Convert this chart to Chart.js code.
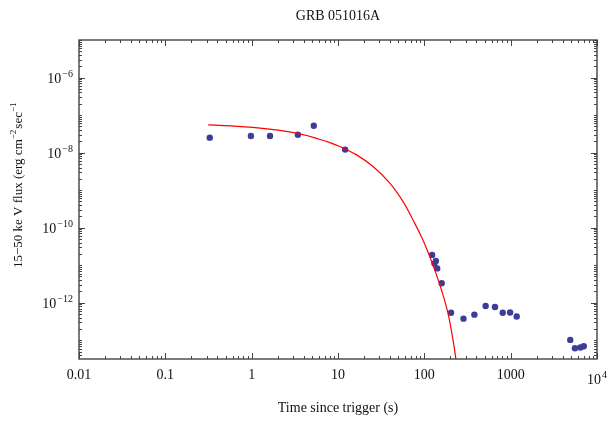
<!DOCTYPE html>
<html>
<head>
<meta charset="utf-8">
<script src="https://cdn.jsdelivr.net/npm/chart.js@4/dist/chart.umd.min.js"></script>
<style>
  html, body { margin: 0; background: #fff; }
</style>
</head>
<body>
<canvas id="chart" width="608" height="424"></canvas>
<script>
// ── Data ──────────────────────────────────────────────────────────────────────
const obsTime = [0.327, 0.98, 1.63, 3.43, 5.24, 12.1, 123, 131, 136, 141, 159, 204, 284, 380, 513, 658, 809, 985, 1175, 4900, 5550, 6410, 7030];
const obsFlux = [2.5e-8, 2.77e-8, 2.77e-8, 3.0e-8, 5.2e-8, 1.2e-8, 1.88e-11, 1.1e-11, 1.3e-11, 8.2e-12, 3.3e-12, 5.4e-13, 3.76e-13, 4.8e-13, 8.2e-13, 7.7e-13, 5.4e-13, 5.5e-13, 4.3e-13, 1.02e-13, 6.1e-14, 6.4e-14, 6.9e-14];

// fitted curve
const fitTime = [0.314, 0.953, 3.31, 8.04, 10.5, 16.4, 25.5, 39.8, 56.7, 73.9, 92.5, 110, 132, 158, 188, 215, 234];
const fitFlux = [5.48e-8, 4.75e-8, 3.29e-8, 1.85e-8, 1.45e-8, 8.69e-9, 4.24e-9, 1.53e-9, 4.94e-10, 1.60e-10, 5.75e-11, 2.29e-11, 7.45e-12, 2.18e-12, 5.21e-13, 1.01e-13, 2.8e-14];

// axes
const xTickValues = [0.01, 0.1, 1, 10, 100, 1000, 10000];
const xTickBase   = ['0.01', '0.1', '1', '10', '100', '1000', '10'];
const xTickExp    = ['', '', '', '', '', '', '4'];
const yTickValues = [1e-6, 1e-8, 1e-10, 1e-12];
const yTickExp    = ['\u22126', '\u22128', '\u221210', '\u221212'];

const xMin = 0.01, xMax = 10000;
const yMin = Math.pow(10, -13.5), yMax = 1e-5;

const FONT = '"Liberation Serif", "DejaVu Serif", serif';
const frameColor = '#444';

// ── Helpers ──────────────────────────────────────────────────────────────────
function powWidth(ctx, base, exp) {
  ctx.font = `14px ${FONT}`;
  let w = ctx.measureText(base).width;
  if (exp) { ctx.font = `10px ${FONT}`; w += ctx.measureText(exp).width + 1; }
  return w;
}

function drawPow(ctx, base, exp, x, y) {
  // x = left edge, y = baseline
  ctx.textAlign = 'left';
  ctx.textBaseline = 'alphabetic';
  ctx.font = `14px ${FONT}`;
  ctx.fillText(base, x, y);
  if (exp) {
    const bw = ctx.measureText(base).width;
    ctx.font = `10px ${FONT}`;
    ctx.fillText(exp, x + bw + 1, y - 6);
  }
}

function minorValues(min, max) {
  const out = [];
  for (let k = Math.floor(Math.log10(min)); k <= Math.ceil(Math.log10(max)); k++) {
    for (let m = 1; m <= 9; m++) {
      const v = m * Math.pow(10, k);
      if (v >= min && v <= max) out.push({ v, major: m === 1 });
    }
  }
  return out;
}

// ── Frame, ticks and labels ──────────────────────────────────────────────────
const framePlugin = {
  id: 'frame',
  afterDraw(chart) {
    const { ctx, chartArea: a, scales: { x, y } } = chart;
    ctx.save();
    ctx.strokeStyle = frameColor;
    ctx.fillStyle = '#111';

    // ticks on all four sides, pointing in
    ctx.lineWidth = 1;
    ctx.beginPath();
    minorValues(xMin, xMax).forEach(t => {
      const px = Math.round(x.getPixelForValue(t.v)) + 0.5;
      const len = t.major ? 6 : 3;
      ctx.moveTo(px, a.bottom); ctx.lineTo(px, a.bottom - len);
      ctx.moveTo(px, a.top);    ctx.lineTo(px, a.top + len);
    });
    minorValues(yMin, yMax).forEach(t => {
      const py = Math.round(y.getPixelForValue(t.v)) + 0.5;
      const exp = Math.round(Math.log10(t.v));
      const len = t.major && exp % 2 === 0 ? 6 : 3;
      ctx.moveTo(a.left, py);  ctx.lineTo(a.left + len, py);
      ctx.moveTo(a.right, py); ctx.lineTo(a.right - len, py);
    });
    ctx.stroke();

    // frame
    ctx.lineWidth = 1.4;
    ctx.strokeRect(a.left, a.top, a.right - a.left, a.bottom - a.top);

    // x tick labels
    xTickValues.forEach((v, i) => {
      const px = x.getPixelForValue(v);
      const w = powWidth(ctx, xTickBase[i], xTickExp[i]);
      const drop = xTickExp[i] ? 5 : 0;
      drawPow(ctx, xTickBase[i], xTickExp[i], px - w / 2, a.bottom + 20 + drop);
    });

    // y tick labels
    yTickValues.forEach((v, i) => {
      const py = y.getPixelForValue(v);
      const w = powWidth(ctx, '10', yTickExp[i]);
      drawPow(ctx, '10', yTickExp[i], a.left - 6 - w, py + 5);
    });

    // title
    ctx.textAlign = 'center';
    ctx.font = `14px ${FONT}`;
    ctx.fillText('GRB 051016A', (a.left + a.right) / 2, 20);

    // x axis title
    ctx.fillText('Time since trigger (s)', (a.left + a.right) / 2, 412);

    // y axis title, rotated, with superscripts
    ctx.translate(22, 268);
    ctx.rotate(-Math.PI / 2);
    const parts = [
      ['15\u221250 ke V flux (erg cm', false],
      ['\u22122', true],
      ['sec', false],
      ['\u22121', true],
    ];
    let cx = 0;
    ctx.textAlign = 'left';
    parts.forEach(([txt, sup]) => {
      ctx.font = sup ? `9px ${FONT}` : `13px ${FONT}`;
      ctx.fillText(txt, cx, sup ? -6 : 0);
      cx += ctx.measureText(txt).width + (sup ? 1 : 0);
    });
    ctx.restore();
  },
};

// ── Chart ────────────────────────────────────────────────────────────────────
new Chart(document.getElementById('chart'), {
  type: 'scatter',
  data: {
    datasets: [
      {
        label: 'fit',
        type: 'line',
        data: fitTime.map((t, i) => ({ x: t, y: fitFlux[i] })),
        borderColor: '#ff0000',
        borderWidth: 1.2,
        pointRadius: 0,
        tension: 0.4,
        fill: false,
        order: 0,
      },
      {
        label: 'BAT/XRT',
        data: obsTime.map((t, i) => ({ x: t, y: obsFlux[i] })),
        backgroundColor: '#3d3d99',
        borderColor: '#3d3d99',
        borderWidth: 0,
        pointRadius: 3.2,
        order: 1,
      },
    ],
  },
  options: {
    responsive: false,
    animation: false,
    layout: { padding: { left: 79, right: 11, top: 40, bottom: 65 } },
    plugins: { legend: { display: false }, tooltip: { enabled: false } },
    scales: {
      x: { type: 'logarithmic', min: xMin, max: xMax, display: false },
      y: { type: 'logarithmic', min: yMin, max: yMax, display: false },
    },
  },
  plugins: [framePlugin],
});
</script>
</body>
</html>
